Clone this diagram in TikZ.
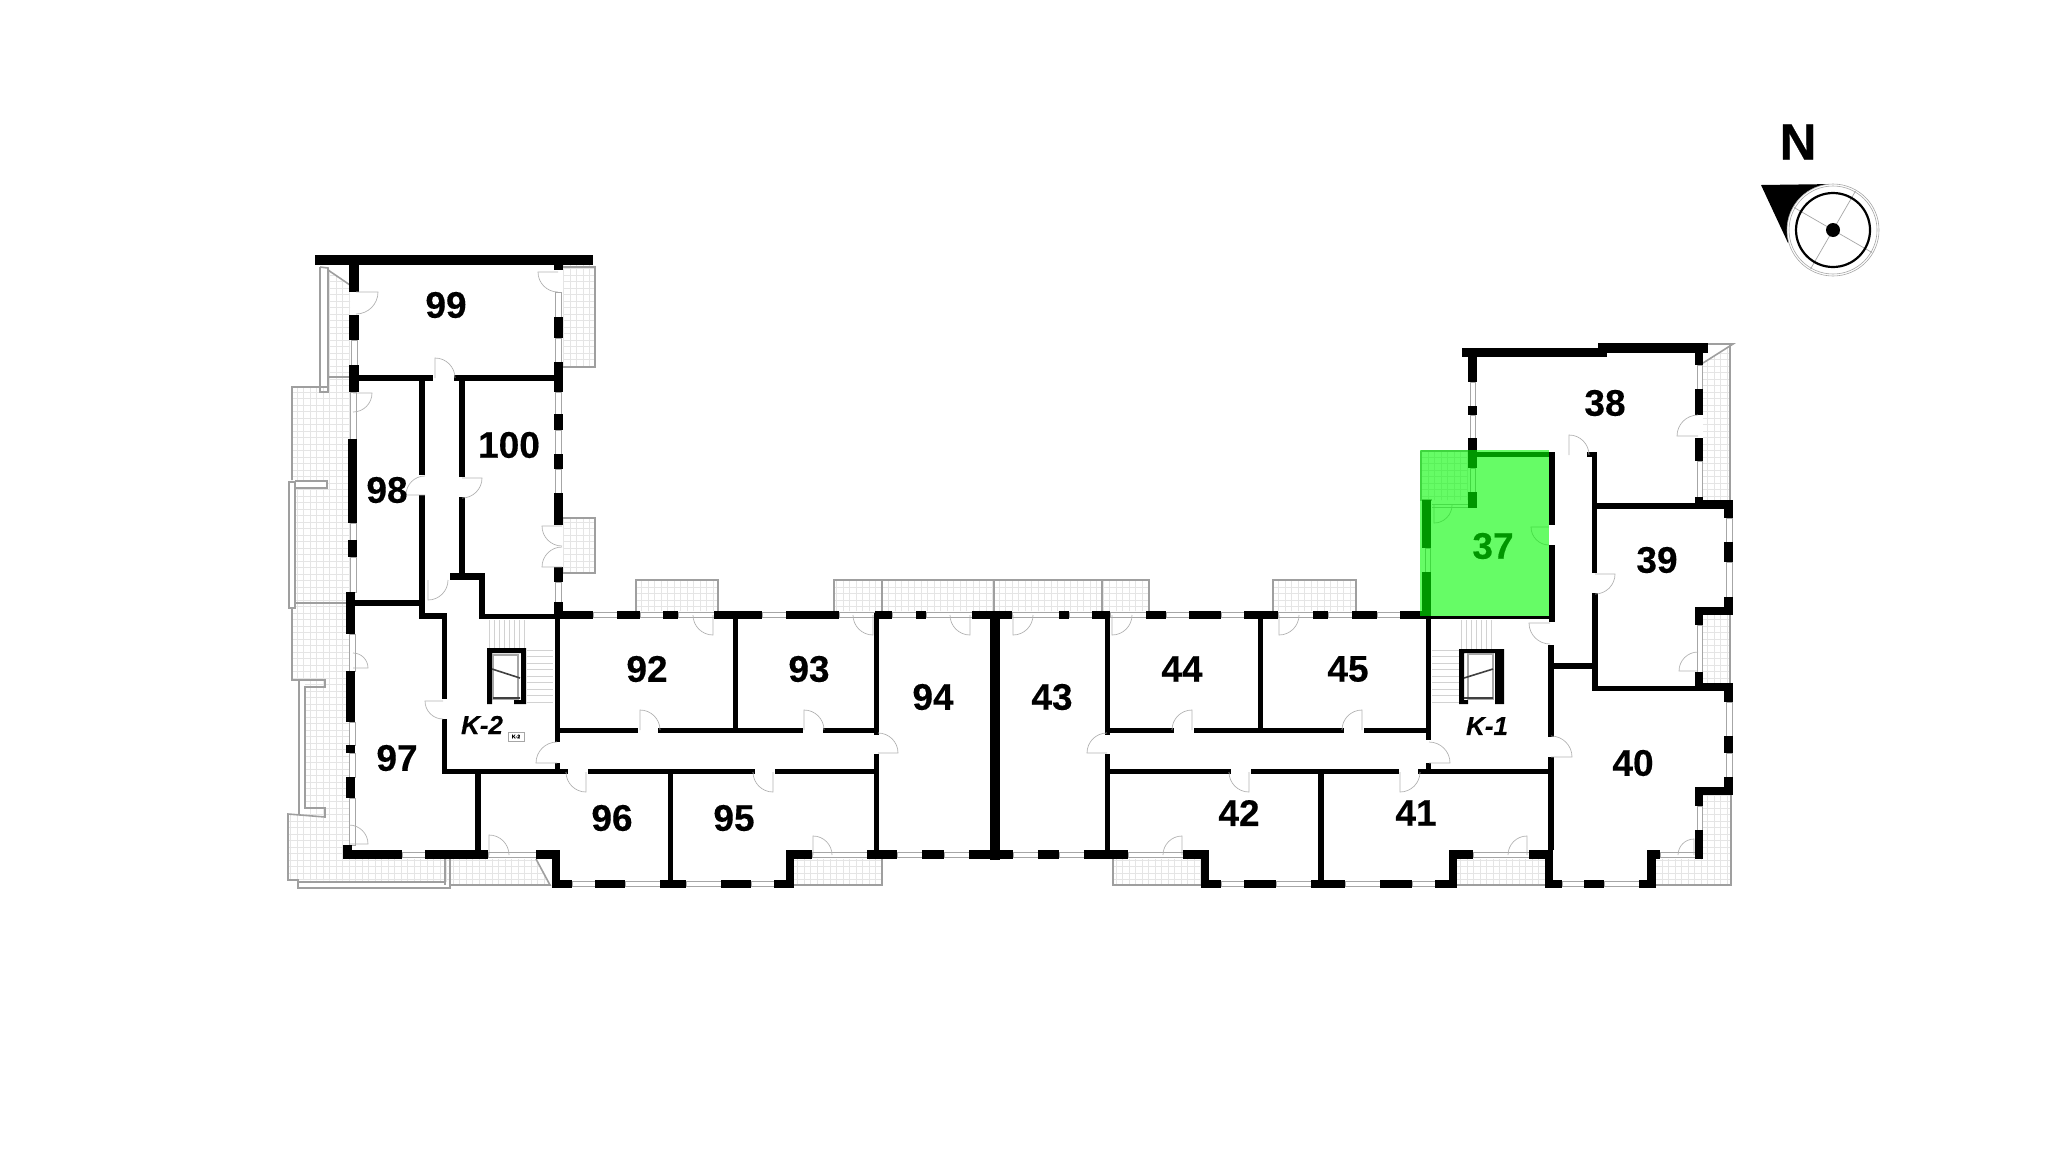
\documentclass[tikz,border=0pt]{standalone}
\usepackage{fontspec}
\setmainfont{Liberation Sans}[BoldFeatures={FakeBold=0.35},BoldItalicFeatures={FakeBold=0.35}]
\definecolor{roomgreen}{RGB}{0,250,0}
\newcommand{\doorat}[5]{\draw[doorline] (#1,#2) -- ++(#3:#5) arc (#3:#4:#5);}
\begin{document}
\begin{tikzpicture}[x=0.5pt,y=-0.5pt]
  \tikzstyle{wall}=[fill=black,draw=none]
  \tikzstyle{window}=[draw=gray!70,fill=white,line width=0.5pt]
  \tikzstyle{doorline}=[draw=gray!60,line width=0.35pt]
  \tikzstyle{balcony}=[draw=gray!75,line width=0.8pt]
  \tikzstyle{gridline}=[draw=gray!20,line width=0.2pt]
  \tikzstyle{stairline}=[draw=gray!35,line width=0.3pt]
  \tikzstyle{room}=[font=\bfseries\fontsize{18.5}{20}\selectfont,inner sep=0pt]
  \tikzstyle{corelabel}=[font=\bfseries\itshape\fontsize{13}{15}\selectfont,inner sep=0pt]
  \useasboundingbox (0,0) rectangle (2048,1163);

  % balcony grids
  \begin{scope}
    \clip (327,268) -- (350,285) -- (350,377) -- (327,377) -- cycle
      (292,387) -- (327,387) -- (327,377) -- (350,377) -- (350,850) -- (345,859) -- (536,859)
        -- (550,885) -- (450,885) -- (450,882) -- (288,880) -- (288,814) -- (305,814) -- (305,680)
        -- (292,680) -- (292,608) -- (295,608) -- (295,488) -- (327,488) -- (327,481) -- (292,481) -- cycle
      (563,265) rectangle (595,367) (563,518) rectangle (595,573)
      (636,580) rectangle (718,611) (834,580) rectangle (1149,611) (1273,580) rectangle (1356,611)
      (794,859) rectangle (882,885) (1113,859) rectangle (1201,885) (1457,859) rectangle (1545,885)
      (1656,859) -- (1703,859) -- (1703,795) -- (1731,795) -- (1731,885) -- (1656,885) -- cycle
      (1703,615) rectangle (1730,683)
      (1703,363) -- (1730,346) -- (1730,500) -- (1703,500) -- cycle
      (1421,451) rectangle (1468,500);
    \foreach \gx in {284,290.5,...,1735} \draw[gridline] (\gx,260) -- (\gx,890);
    \foreach \gy in {262,268.5,...,890} \draw[gridline] (284,\gy) -- (1735,\gy);
  \end{scope}

  % balcony outlines
  \draw[balcony] (320,267) -- (320,392) -- (328,392) -- (328,268) -- (320,267) (328,270) -- (350,285) (328,377) -- (350,377);
  \draw[balcony] (327,387) -- (292,387) -- (292,480) (292,608) -- (292,680) -- (325,680) -- (325,687) -- (305,687) -- (305,808) -- (325,808) -- (325,817) -- (288,814) -- (288,880) -- (298,880) -- (298,888) -- (450,888) -- (450,885) -- (550,885) -- (536,859);
  \draw[balcony] (289,482) rectangle (295,608) (295,481) -- (327,481) -- (327,488) -- (295,488) (295,603) -- (346,603) (299,680) -- (299,815) (305,680) -- (299,680) (298,882) -- (445,882) (445,859) -- (445,885) (450,859) -- (450,888);
  \draw[balcony] (563,267) -- (595,267) -- (595,367) -- (563,367);
  \draw[balcony] (563,518) -- (595,518) -- (595,573) -- (563,573);
  \draw[balcony] (636,611) -- (636,580) -- (718,580) -- (718,611);
  \draw[balcony] (834,611) -- (834,580) -- (1149,580) -- (1149,611) (882,580) -- (882,611) (994,580) -- (994,611) (1102,580) -- (1102,611);
  \draw[balcony] (1273,611) -- (1273,580) -- (1356,580) -- (1356,611);
  \draw[balcony] (794,885) -- (882,885) -- (882,859);
  \draw[balcony] (1113,859) -- (1113,885) -- (1201,885);
  \draw[balcony] (1457,885) -- (1545,885);
  \draw[balcony] (1656,885) -- (1731,885) -- (1731,795);
  \draw[balcony] (1730,683) -- (1730,615);
  \draw[balcony] (1730,500) -- (1730,344) -- (1708,344) (1703,363) -- (1733,344) -- (1708,344);
  \draw[balcony] (1421,451) -- (1468,451) (1421,451) -- (1421,500) -- (1432,500);

  % stairs
  \foreach \sx in {489,494,...,524} \draw[stairline] (\sx,620) -- (\sx,648);
  \foreach \sy in {650,656.5,...,707} \draw[stairline] (527,\sy) -- (553,\sy);
  \foreach \sx in {1461,1466,...,1495} \draw[stairline] (\sx,620) -- (\sx,649);
  \foreach \sy in {650,656.5,...,707} \draw[stairline] (1432,\sy) -- (1459,\sy);

  % windows along the outer walls
  \foreach \xa/\ya/\xb/\yb in {351/340/357/365,350/392/356/439,350/523/356/540,350/557/356/592,349/634/355/671,
      349/722/355/745,349/753/355/777,349/798/355/845,555/292/561/317,555/338/561/362,555/392/561/414,
      555/430/561/454,555/469/561/493,555/582/561/602,1470/382/1475/406,1470/415/1475/438,1470/468/1475/492,
      1425/548/1430/572,1697/365/1702/389,1697/461/1702/497,1726/518/1732/542,1726/562/1732/597,
      1697/625/1702/672,1726/702/1732/736,1726/753/1732/777,1697/806/1702/830}
    {\draw[window] (\xa,\ya) rectangle (\xb,\yb);}
  \foreach \xa/\xb in {593/617,640/663,678/714,762/786,839/875,892/916,926/972,1012/1059,1069/1092,1110/1146,
      1166/1189,1221/1244,1278/1313,1328/1352,1377/1400}
    {\draw[window] (\xa,612.5) rectangle (\xb,617.5);}
  \foreach \xa/\xb in {402/425,488/536,812/867,897/922,944/969,1013/1038,1059/1084,1128/1183,1473/1529,1660/1695}
    {\draw[window] (\xa,852) rectangle (\xb,857);}
  \foreach \xa/\xb in {572/595,625/660,686/721,751/774,1221/1244,1276/1311,1345/1380,1412/1435,1562/1584,1604/1639}
    {\draw[window] (\xa,881.5) rectangle (\xb,886.5);}
  \draw[doorline] (1432,504) -- (1468,504) (1432,507) -- (1468,507);

  % outer walls
  \foreach \xa/\ya/\xb/\yb in {315/255/593/265,349/255/359/292,349/315/359/340,349/365/359/392,348/439/357/523,
      348/540/357/557,346/592/355/634,346/671/355/722,346/745/355/753,346/777/355/798,343/845/352/859,
      554/255/563/270,554/317/563/338,554/362/563/392,554/414/563/430,554/454/563/469,554/493/563/525,
      554/567/563/582,554/602/563/618,552/850/560/888,786/850/794/888,1201/850/1209/888,1449/850/1457/888,
      1545/850/1553/888,1647/850/1656/888,1598/343/1708/353,1462/348/1607/357,1468/348/1477/382,1468/406/1477/415,
      1468/438/1477/468,1468/492/1477/508,1422/500/1431/548,1422/572/1431/616,1695/343/1703/365,1695/389/1703/415,
      1695/438/1703/461,1695/497/1703/508,1695/500/1733/509,1724/500/1733/518,1724/542/1733/562,1724/597/1733/615,
      1695/607/1733/615,1695/607/1703/625,1695/672/1703/691,1695/683/1733/691,1724/683/1733/702,1724/736/1733/753,
      1724/777/1733/795,1695/787/1733/795,1695/787/1703/806,1695/830/1703/859}
    {\fill[wall] (\xa,\ya) rectangle (\xb,\yb);}
  \foreach \xa/\xb in {555/593,617/640,663/678,714/762,786/839,875/892,916/926,972/1012,1059/1069,1092/1110,
      1146/1166,1189/1221,1244/1278,1313/1328,1352/1377,1400/1431}
    {\fill[wall] (\xa,611) rectangle (\xb,619);}
  \foreach \xa/\xb in {343/402,425/488,536/559,786/812,867/897,922/944,969/1013,1038/1059,1084/1128,1183/1209,
      1449/1473,1529/1553,1647/1660}
    {\fill[wall] (\xa,850) rectangle (\xb,859);}
  \foreach \xa/\xb in {552/572,595/625,660/686,721/751,774/794,1201/1221,1244/1276,1311/1345,1380/1412,1435/1457,
      1545/1562,1584/1604,1639/1656}
    {\fill[wall] (\xa,880) rectangle (\xb,888);}

  % inner walls
  \foreach \xa/\ya/\xb/\yb in {357/375/433/381,454/375/555/381,355/600/420/606,419/376/425/475,419/495/425/618,
      459/381/465/477,459/497/465/578,450/573/485/580,479/573/485/619,480/614/557/619,419/613/447/619,
      442/613/447/699,442/719/447/774,442/769/568/774,475/774/481/850,555/618/560/742,555/763/560/773,
      560/728/638/733,658/728/803/733,823/728/875/733,588/769/755/774,775/769/875/774,733/615/738/733,
      668/770/673/885,874/613/879/735,874/754/879/853,990/612/1000/860,1105/613/1110/735,1105/754/1110/853,
      1110/728/1174/733,1194/728/1344/733,1364/728/1426/733,1110/769/1231/774,1251/769/1399/774,1418/769/1548/774,
      1258/615/1263/733,1318/770/1324/885,1426/618/1431/740,1426/763/1431/773,1431/616/1555/619,
      1477/452/1555/457,1549/452/1555/525,1549/545/1555/622,1548/645/1554/737,1548/757/1554/850,1548/663/1592/669,
      1587/452/1597/457,1592/452/1597/573,1592/593/1598/691,1592/686/1695/691,1597/503/1695/509}
    {\fill[wall] (\xa,\ya) rectangle (\xb,\yb);}

  % doors
  \doorat{356}{292}{0}{90}{22}
  \doorat{558}{272}{180}{90}{20}
  \doorat{353}{393}{0}{90}{19}
  \doorat{435}{378}{270}{360}{20}
  \doorat{425}{495}{180}{270}{19}
  \doorat{462}{478}{0}{90}{20}
  \doorat{562}{526}{180}{90}{20}
  \doorat{562}{567}{180}{270}{20}
  \doorat{428}{580}{90}{0}{20}
  \doorat{353}{668}{0}{-90}{15}
  \doorat{349}{844}{0}{-90}{19}
  \doorat{443}{701}{180}{90}{18}
  \doorat{489}{855}{270}{360}{20}
  \doorat{557}{763}{180}{270}{21}
  \doorat{586}{772}{90}{180}{20}
  \doorat{713}{615}{90}{180}{20}
  \doorat{640}{730}{270}{360}{20}
  \doorat{804}{730}{270}{360}{20}
  \doorat{773}{772}{90}{180}{20}
  \doorat{873}{615}{90}{180}{20}
  \doorat{970}{615}{90}{180}{20}
  \doorat{878}{753}{0}{-90}{20}
  \doorat{813}{855}{270}{360}{19}
  \doorat{1013}{615}{90}{0}{20}
  \doorat{1112}{615}{90}{0}{20}
  \doorat{1279}{615}{90}{0}{20}
  \doorat{1107}{753}{180}{270}{20}
  \doorat{1192}{730}{270}{180}{20}
  \doorat{1362}{730}{270}{180}{20}
  \doorat{1249}{772}{90}{180}{20}
  \doorat{1400}{772}{90}{0}{20}
  \doorat{1429}{763}{0}{-90}{21}
  \doorat{1182}{855}{270}{180}{19}
  \doorat{1527}{855}{270}{180}{19}
  \doorat{1694}{855}{270}{180}{16}
  \doorat{1698}{671}{180}{270}{19}
  \doorat{1551}{757}{0}{-90}{21}
  \doorat{1550}{623}{180}{90}{21}
  \doorat{1595}{574}{0}{90}{20}
  \doorat{1549}{527}{180}{90}{18}
  \doorat{1569}{455}{270}{360}{20}
  \doorat{1698}{436}{180}{270}{21}
  \doorat{1434}{505}{90}{0}{18}

  % lifts
  \begin{scope}
    \fill[wall] (487,648) rectangle (526,653) (487,648) rectangle (492,704) (521,648) rectangle (526,704)
      (487,700) rectangle (492,704) (514,700) rectangle (526,704);
    \draw[draw=gray!70,line width=0.6pt] (493,655) rectangle (518,699);
    \draw[line width=0.8pt,draw=black!75] (492,669) -- (520,678) (493,698) -- (520,698);
    \fill[wall] (1459,649) rectangle (1504,653) (1459,649) rectangle (1464,704) (1495,649) rectangle (1504,704)
      (1459,700) rectangle (1468,704);
    \draw[draw=gray!70,line width=0.6pt] (1468,654) rectangle (1493,699);
    \draw[line width=0.8pt,draw=black!75] (1464,678) -- (1493,669) (1464,698) -- (1493,698);
  \end{scope}

  % labels
  \node[room] (r99) at (446,305) {99};
  \node[room] (r100) at (509,445) {100};
  \node[room] (r98) at (387,490) {98};
  \node[room] (r97) at (397,758) {97};
  \node[room] (r96) at (612,818) {96};
  \node[room] (r95) at (734,818) {95};
  \node[room] (r92) at (647,669) {92};
  \node[room] (r93) at (809,669) {93};
  \node[room] (r94) at (933,697) {94};
  \node[room] (r43) at (1052,697) {43};
  \node[room] (r44) at (1182,669) {44};
  \node[room] (r45) at (1348,669) {45};
  \node[room] (r42) at (1239,813) {42};
  \node[room] (r41) at (1416,813) {41};
  \node[room] (r40) at (1633,763) {40};
  \node[room] (r39) at (1657,560) {39};
  \node[room] (r38) at (1605,403) {38};
  \node[room] (r37) at (1493,546) {37};
  \node[corelabel] (k2) at (482,725) {K-2};
  \node[corelabel] (k1) at (1487,726) {K-1};
  \node[draw=gray!70,line width=0.3pt,font=\bfseries\fontsize{2.6}{3}\selectfont,minimum width=8pt,minimum height=4.5pt,inner sep=0pt] (k2tag) at (516,736.5) {K-2};

  % selected flat
  \fill[roomgreen,opacity=0.6] (1420,450) rectangle (1549,616);

  % north mark
  \node[font=\bfseries\fontsize{25.5}{28}\selectfont,inner sep=0pt] (north) at (1798,142) {N};
  \coordinate (compass) at (1833,230);
  \fill[black] (1761,185) -- (1835,184) -- (1788,243) -- cycle;
  \fill[white] (compass) circle (46);
  \draw[draw=gray!70,line width=0.3pt] (compass) circle (46) (compass) circle (44);
  \draw[draw=gray!70,line width=0.35pt] (compass) ++(-60:45) -- ++(120:90) (compass) ++(30:45) -- ++(210:90);
  \draw[black,line width=1.1pt] (compass) circle (37);
  \fill[black] (compass) circle (7);
\end{tikzpicture}
\end{document}
